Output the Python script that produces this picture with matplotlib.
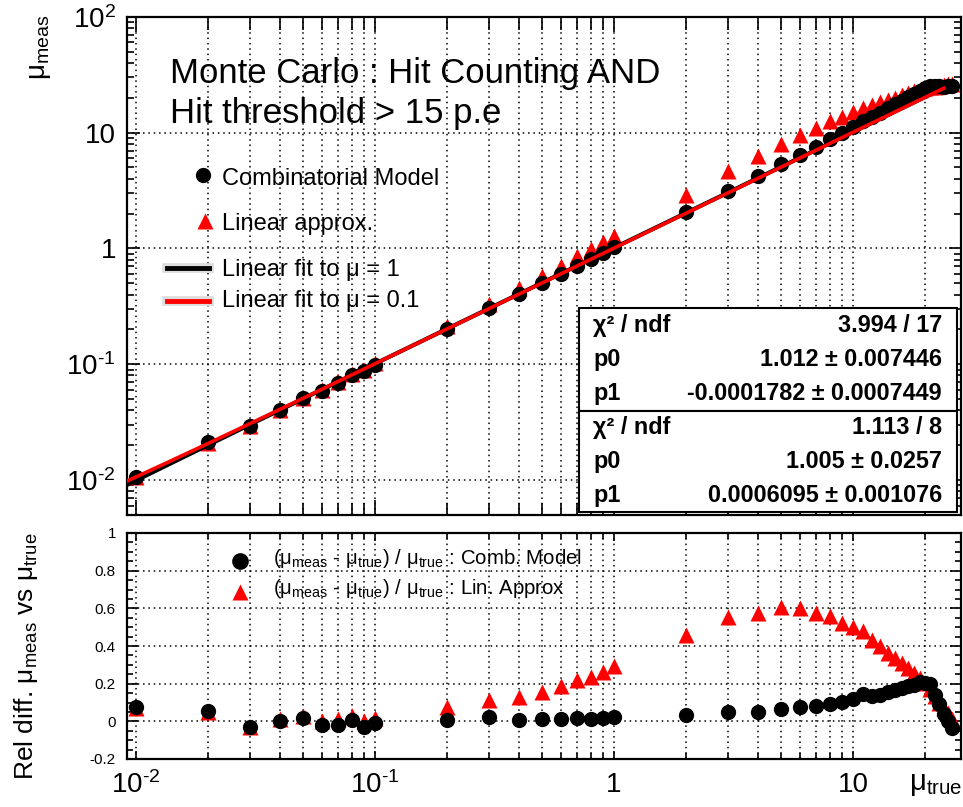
import numpy as np
import matplotlib
matplotlib.use("Agg")
import matplotlib.pyplot as plt
from matplotlib.lines import Line2D
from matplotlib.patches import Rectangle
from matplotlib.ticker import FixedLocator, LogLocator, MultipleLocator, FuncFormatter, NullFormatter

plt.rcParams['font.family'] = ['Liberation Sans', 'DejaVu Sans']
plt.rcParams['mathtext.fontset'] = 'custom'
plt.rcParams['mathtext.rm'] = 'Liberation Sans'
plt.rcParams['mathtext.it'] = 'Liberation Sans:italic'
plt.rcParams['mathtext.bf'] = 'Liberation Sans:bold'

# true mu values of the scan
mu_true = [0.01, 0.02, 0.03, 0.04, 0.05, 0.06, 0.07, 0.08, 0.09, 0.1,
           0.2, 0.3, 0.4, 0.5, 0.6, 0.7, 0.8, 0.9, 1.0,
           2, 3, 4, 5, 6, 7, 8, 9, 10,
           11, 12, 13, 14, 15, 16, 17, 18, 19, 20, 21, 22, 23, 24, 25, 26]

# relative difference (mu_meas - mu_true) / mu_true
rel_comb = [0.074, 0.057, -0.032, 0.004, 0.018, -0.021, -0.021, 0.007, -0.028, -0.011,
            0.009, 0.021, 0.007, 0.011, 0.012, 0.016, 0.012, 0.016, 0.021,
            0.035, 0.048, 0.050, 0.065, 0.074, 0.080, 0.092, 0.101, 0.119,
            0.147, 0.136, 0.142, 0.158, 0.168, 0.177, 0.186, 0.195, 0.209, 0.204,
            0.198, 0.142, 0.090, 0.037, 0.002, -0.034]
rel_lin = [0.070, 0.050, -0.030, 0.010, 0.030, 0.000, 0.010, 0.030, 0.000, 0.020,
           0.074, 0.115, 0.127, 0.158, 0.186, 0.218, 0.235, 0.260, 0.292,
           0.457, 0.556, 0.575, 0.607, 0.600, 0.575, 0.558, 0.522, 0.500,
           0.480, 0.430, 0.400, 0.365, 0.338, 0.310, 0.283, 0.257, 0.230, 0.204,
           0.170, 0.135, 0.100, 0.072, 0.045, 0.010]

# fit results  y = p0 * x + p1
fit_mu1 = [1.012, -0.0001782]
fit_mu01 = [1.005, 0.0006095]
stats_mu1 = [("χ² / ndf", "3.994 / 17"), ("p0", "1.012 ± 0.007446"), ("p1", "-0.0001782 ± 0.0007449")]
stats_mu01 = [("χ² / ndf", "1.113 / 8"), ("p0", "1.005 ± 0.0257"), ("p1", "0.0006095 ± 0.001076")]

mu_true_a = np.array(mu_true)
meas_comb = mu_true_a * (1 + np.array(rel_comb))
meas_lin = mu_true_a * (1 + np.array(rel_lin))

W, H = 963, 807
fig = plt.figure(figsize=(W / 100, H / 100), dpi=100)


def fx(px):
    return px / W


def fy(py):
    return 1 - py / H


xmin, xmax = 10 ** -2.038, 10 ** 1.452
ax1 = fig.add_axes([fx(127), fy(515), fx(961) - fx(127), fy(16.7) - fy(515)])
ax2 = fig.add_axes([fx(127), fy(759), fx(961) - fx(127), fy(533) - fy(759)])

grid_kw = dict(color='black', linestyle=(0, (1, 2.5)), linewidth=1.1)

# ---- top panel
xx = np.logspace(np.log10(xmin), np.log10(24), 300)
ax1.plot(mu_true, meas_lin, '^', color='red', ms=11, mec='none', zorder=3)
ax1.plot(mu_true, meas_comb, 'o', color='black', ms=11, mec='none', zorder=4)
ax1.plot(xx, fit_mu1[0] * xx + fit_mu1[1], color='black', lw=3, zorder=5)
ax1.plot(xx, fit_mu01[0] * xx + fit_mu01[1], color='red', lw=2.6, zorder=6)

ax1.set_xscale('log')
ax1.set_yscale('log')
ax1.set_xlim(xmin, xmax)
ax1.set_ylim(0.005, 100)
ax1.xaxis.set_major_locator(LogLocator(base=10, numticks=10))
ax1.xaxis.set_minor_locator(LogLocator(base=10, subs=np.arange(2, 10), numticks=20))
ax1.xaxis.set_major_formatter(NullFormatter())
ax1.xaxis.set_minor_formatter(NullFormatter())
ax1.yaxis.set_major_locator(FixedLocator([0.01, 0.1, 1, 10, 100]))
ax1.yaxis.set_minor_locator(LogLocator(base=10, subs=np.arange(2, 10), numticks=20))
ylab = {0.01: r'$10^{\text{-}2}$', 0.1: r'$10^{\text{-}1}$', 1: '1', 10: '10', 100: r'$10^{2}$'}
ax1.yaxis.set_major_formatter(FuncFormatter(lambda v, p: ylab.get(round(v, 3), '')))
ax1.yaxis.set_minor_formatter(NullFormatter())
ax1.tick_params(axis='y', which='major', labelsize=20, pad=8)
ax1.grid(True, which='major', axis='y', **grid_kw)
ax1.grid(True, which='both', axis='x', **grid_kw)

# ---- bottom panel
ax2.plot(mu_true, rel_lin, '^', color='red', ms=11, mec='none', zorder=3)
ax2.plot(mu_true, rel_comb, 'o', color='black', ms=11, mec='none', zorder=4)
ax2.set_xscale('log')
ax2.set_xlim(xmin, xmax)
ax2.set_ylim(-0.2, 1.0)
ax2.xaxis.set_major_locator(LogLocator(base=10, numticks=10))
ax2.xaxis.set_minor_locator(LogLocator(base=10, subs=np.arange(2, 10), numticks=20))
xlab = {0.01: r'$10^{\text{-}2}$', 0.1: r'$10^{\text{-}1}$', 1: '1', 10: '10'}
ax2.xaxis.set_major_formatter(FuncFormatter(lambda v, p: xlab.get(round(v, 3), '')))
ax2.xaxis.set_minor_formatter(NullFormatter())
ax2.yaxis.set_major_locator(MultipleLocator(0.2))
ax2.yaxis.set_minor_locator(MultipleLocator(0.05))
ax2.yaxis.set_major_formatter(FuncFormatter(
    lambda v, p: '0' if abs(v) < 1e-9 else ('1' if abs(v - 1) < 1e-9 else f'{v:.1f}'.replace('−', '-'))))
ax2.tick_params(axis='x', which='major', labelsize=20, pad=9)
ax2.tick_params(axis='y', which='major', labelsize=11, pad=8)
ax2.grid(True, which='major', axis='y', **grid_kw)
ax2.grid(True, which='both', axis='x', **grid_kw)

for ax in (ax1, ax2):
    ax.tick_params(which='both', direction='in', top=True, right=True, width=1.2)
    for s in ax.spines.values():
        s.set_linewidth(1.6)
ax1.tick_params(axis='x', which='major', length=11)
ax1.tick_params(axis='x', which='minor', length=9)
ax1.tick_params(axis='y', which='major', length=9)
ax1.tick_params(axis='y', which='minor', length=5)
ax2.tick_params(axis='x', which='major', length=6)
ax2.tick_params(axis='x', which='minor', length=4)
ax2.tick_params(axis='y', which='major', length=8)
ax2.tick_params(axis='y', which='minor', length=4)

# ---- titles and axis labels
fig.text(fx(170), fy(83), "Monte Carlo : Hit Counting AND", fontsize=25, va='baseline')
fig.text(fx(170), fy(123), "Hit threshold > 15 p.e", fontsize=25, va='baseline')
fig.text(fx(27), fy(15), r"$\mathrm{μ_{meas}}$", fontsize=20, rotation=90, ha='left', va='top')
fig.text(fx(12), fy(533), r"Rel diff. $\mathrm{μ_{meas}}$ vs $\mathrm{μ_{true}}$", fontsize=19,
         rotation=90, ha='left', va='top')
fig.text(fx(962), fy(770), r"$\mathrm{μ_{true}}$", fontsize=21, ha='right', va='top')

# ---- top legend
fig.add_artist(Line2D([fx(203)], [fy(175)], marker='o', color='black', ms=11, mec='none', transform=fig.transFigure))
fig.add_artist(Line2D([fx(205)], [fy(221)], marker='^', color='red', ms=11, mec='none', transform=fig.transFigure))
for yy, col in ((268, 'black'), (301, 'red')):
    fig.add_artist(Line2D([fx(167), fx(209)], [fy(yy)] * 2, color='#dddddd', lw=7, transform=fig.transFigure))
    fig.add_artist(Line2D([fx(167), fx(209)], [fy(yy)] * 2, color=col, lw=3.5, transform=fig.transFigure))
leg_items = [(185, "Combinatorial Model"), (230, "Linear approx."),
             (276, "Linear fit to μ = 1"), (307, "Linear fit to μ = 0.1")]
for yy, s in leg_items:
    fig.text(fx(222), fy(yy), s, fontsize=17, va='baseline')

# ---- bottom legend
fig.add_artist(Line2D([fx(240)], [fy(561)], marker='o', color='black', ms=12, mec='none', transform=fig.transFigure))
fig.add_artist(Line2D([fx(240)], [fy(592)], marker='^', color='red', ms=12, mec='none', transform=fig.transFigure))
fig.text(fx(273), fy(558),
         r"($\mathrm{μ_{meas}}$ - $\mathrm{μ_{true}}$) / $\mathrm{μ_{true}}$ : Comb. Model",
         fontsize=14.7, va='center')
fig.text(fx(273), fy(588),
         r"($\mathrm{μ_{meas}}$ - $\mathrm{μ_{true}}$) / $\mathrm{μ_{true}}$ : Lin. Approx",
         fontsize=14.7, va='center')

# ---- stat boxes
for top, bot, rows in ((308, 411, stats_mu1), (411, 512, stats_mu01)):
    fig.add_artist(Rectangle((fx(579), fy(bot)), fx(957) - fx(579), fy(top) - fy(bot),
                             transform=fig.transFigure, facecolor='white', edgecolor='black',
                             lw=1.5, zorder=5))
    row_h = (bot - top) / 3
    for i, (lab, val) in enumerate(rows):
        yc = top + row_h * (i + 0.5)
        fig.text(fx(593), fy(yc), lab, fontsize=16.8, fontweight='bold', va='center', zorder=6)
        fig.text(fx(942), fy(yc), val, fontsize=16.8, fontweight='bold', va='center', ha='right', zorder=6)

fig.savefig("out.png", dpi=100)
